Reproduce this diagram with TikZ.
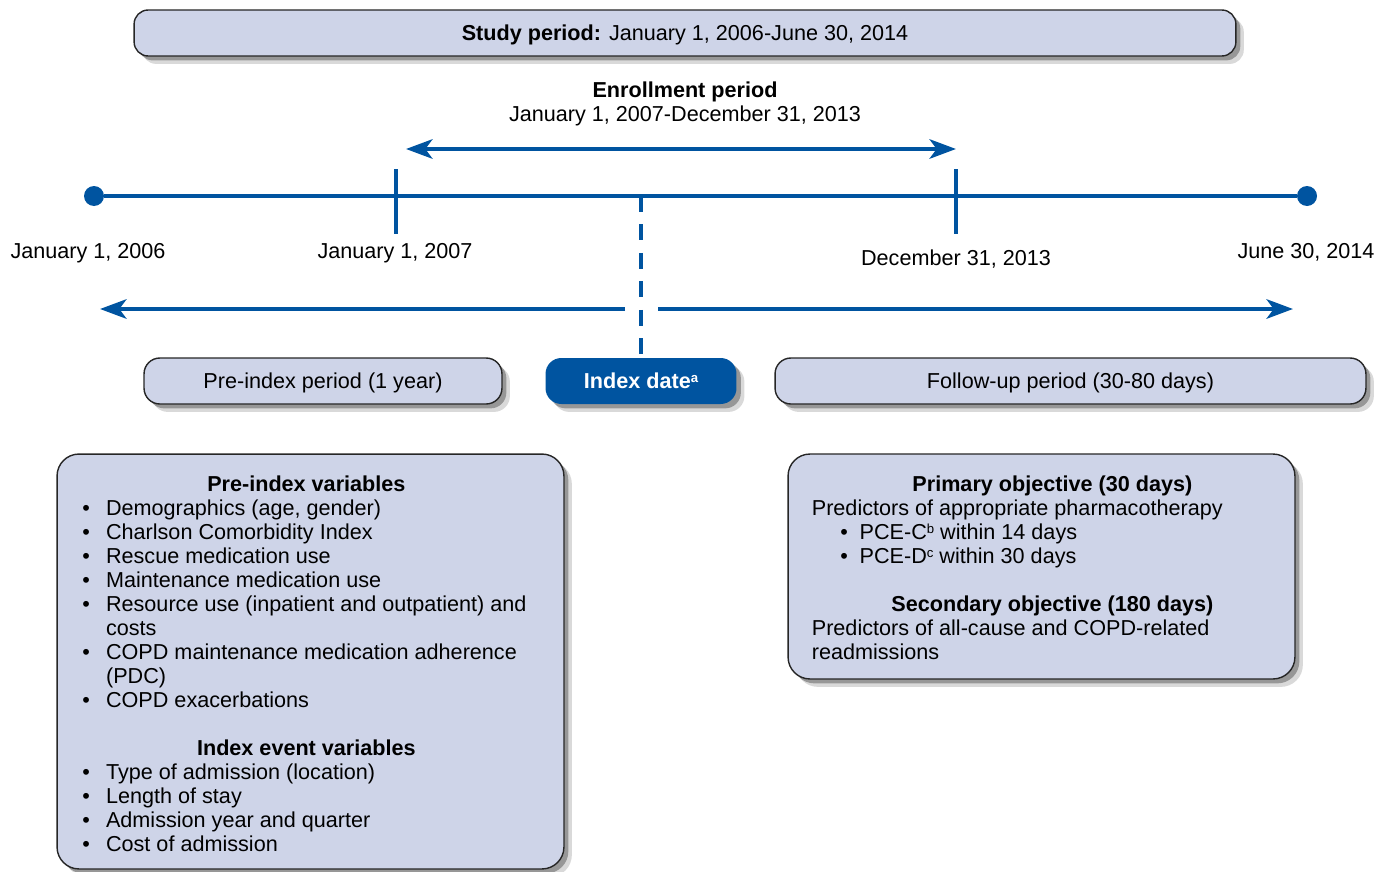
\documentclass[tikz,border=0pt]{standalone}
\usepackage{fontspec}
\setmainfont{Liberation Sans}
\usetikzlibrary{arrows.meta,shadows}
\definecolor{tlblue}{RGB}{0,84,160}
\definecolor{boxfill}{RGB}{206,212,232}
\newcommand{\bul}[1]{\makebox[#1][l]{\textbullet}}
\newcommand{\fnmark}[1]{\raisebox{3.6pt}{\fontsize{7.5}{8}\selectfont #1}}

\begin{document}
\begin{tikzpicture}[x=0.02cm,y=-0.02cm, >={Stealth[length=15pt, width=11pt, inset=4pt]}]
\tikzset{txt/.style={font=\fontsize{12.3}{13.66}\selectfont, inner sep=0pt},
  softshadow/.style={drop shadow={shadow xshift=4.5pt, shadow yshift=-4.5pt, opacity=0.15, fill=black},
    drop shadow={shadow xshift=2.5pt, shadow yshift=-2.5pt, opacity=0.3, fill=black}},
  periodbox/.style={txt, text height=8.8pt, text depth=0pt, draw=black!85, line width=0.8pt, fill=boxfill, rounded corners=9pt, softshadow},
  indexbox/.style={txt, text height=8.8pt, text depth=0pt, fill=tlblue, text=white, rounded corners=9pt, softshadow},
  bigbox/.style={draw=black!85, line width=0.8pt, fill=boxfill, rounded corners=12.5pt, softshadow},
  blueline/.style={tlblue, line width=2.5pt},
  dot/.style={circle, fill=tlblue, minimum size=0.4cm, inner sep=0pt}}
\useasboundingbox (0,0) rectangle (1379,872);
\node[periodbox, minimum width=22.04cm, minimum height=0.92cm, rounded corners=8pt] (study) at (685,33)
  {\textbf{Study period:} January 1, 2006-June 30, 2014};
\node[txt, align=center] (enroll) at (685,104) {\textbf{Enrollment period}\\January 1, 2007-December 31, 2013};
\coordinate (e1) at (406,149);
\coordinate (e2) at (956,149);
\draw[blueline, <->] (e1) -- (e2);
\node[dot] (start) at (94,196) {};
\node[dot] (end) at (1307,196) {};
\draw[blueline] (start) -- (end);
\coordinate (t1a) at (396,169);
\coordinate (t1b) at (396,234);
\coordinate (t2a) at (956,169);
\coordinate (t2b) at (956,234);
\draw[blueline] (t1a) -- (t1b);
\draw[blueline] (t2a) -- (t2b);
\node[txt, anchor=base] (d1) at (88,258) {January 1, 2006};
\node[txt, anchor=base] (d2) at (395,258) {January 1, 2007};
\node[txt, anchor=base] (d3) at (956,265) {December 31, 2013};
\node[txt, anchor=base] (d4) at (1306,258) {June 30, 2014};
\coordinate (pl1) at (625,309);
\coordinate (pl2) at (100,309);
\coordinate (fu1) at (658,309);
\coordinate (fu2) at (1293,309);
\draw[blueline, ->] (pl1) -- (pl2);
\draw[blueline, ->] (fu1) -- (fu2);
\node[periodbox, minimum width=7.16cm, minimum height=0.92cm] (pre) at (323,381) {Pre-index period (1 year)};
\node[indexbox, minimum width=3.82cm, minimum height=0.92cm] (index) at (641,381) {\textbf{Index date\fnmark{a}}};
\node[periodbox, minimum width=11.82cm, minimum height=0.92cm] (follow) at (1070.5,381) {Follow-up period (30-80 days)};
\coordinate (idtop) at (641,196);
\draw[tlblue, line width=2.8pt, dash pattern=on 9pt off 7.2pt] (idtop) -- (index.north);
\node[bigbox, minimum width=10.14cm, minimum height=8.3cm] (prebox) at (310.5,661.5) {};
\node[txt, anchor=base west] (prevars) at (82,491.5) {\begin{tabular}[t]{@{}l@{}l@{}}
\multicolumn{2}{@{}l@{}}{\makebox[255pt]{\bfseries Pre-index variables}}\\
\bul{13.5pt} & Demographics (age, gender)\\
\bul{13.5pt} & Charlson Comorbidity Index\\
\bul{13.5pt} & Rescue medication use\\
\bul{13.5pt} & Maintenance medication use\\
\bul{13.5pt} & Resource use (inpatient and outpatient) and\\
 & costs\\
\bul{13.5pt} & COPD maintenance medication adherence\\
 & (PDC)\\
\bul{13.5pt} & COPD exacerbations\\
 & \\
\multicolumn{2}{@{}l@{}}{\makebox[255pt]{\bfseries Index event variables}}\\
\bul{13.5pt} & Type of admission (location)\\
\bul{13.5pt} & Length of stay\\
\bul{13.5pt} & Admission year and quarter\\
\bul{13.5pt} & Cost of admission
\end{tabular}};
\node[bigbox, minimum width=10.14cm, minimum height=4.5cm] (objbox) at (1041.5,566.5) {};
\node[txt, anchor=base west] (objs) at (811.5,491.5) {\begin{tabular}[t]{@{}l@{}l@{}l@{}}
\multicolumn{3}{@{}l@{}}{\makebox[273.8pt]{\bfseries Primary objective (30 days)}}\\
\multicolumn{3}{@{}l@{}}{Predictors of appropriate pharmacotherapy}\\
\hspace{16.2pt} & \bul{11pt} & PCE-C\fnmark{b} within 14 days\\
\hspace{16.2pt} & \bul{11pt} & PCE-D\fnmark{c} within 30 days\\
 & & \\
\multicolumn{3}{@{}l@{}}{\makebox[273.8pt]{\bfseries Secondary objective (180 days)}}\\
\multicolumn{3}{@{}l@{}}{Predictors of all-cause and COPD-related}\\
\multicolumn{3}{@{}l@{}}{readmissions}
\end{tabular}};
\end{tikzpicture}
\end{document}
